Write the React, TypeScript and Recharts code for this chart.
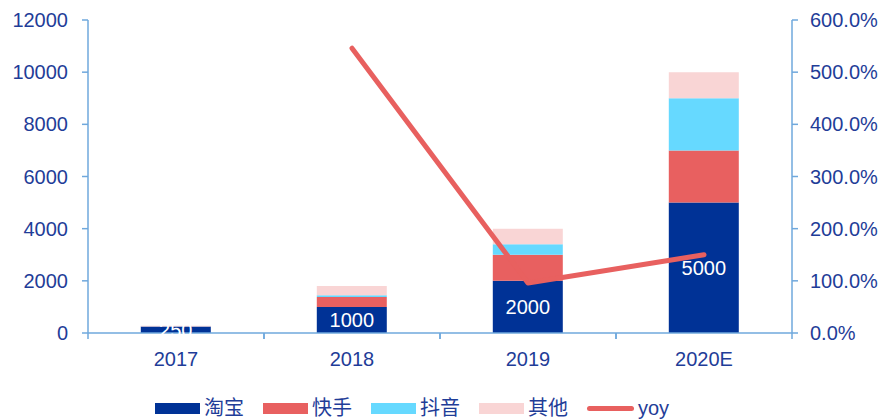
import React from 'react';
import { ComposedChart, Bar, Line, XAxis, YAxis, Legend, LabelList } from 'recharts';

const categories = ['2017', '2018', '2019', '2020E'];
const taobao = [250, 1000, 2000, 5000];
const kuaishou = [0, 380, 1000, 2000];
const douyin = [0, 70, 400, 2000];
const others = [30, 350, 600, 1000];
const yoy: (number | null)[] = [null, 546, 96, 150];
const leftTicks = [0, 2000, 4000, 6000, 8000, 10000, 12000];
const rightTicks = [0, 100, 200, 300, 400, 500, 600];

const data = categories.map((c, i) => ({
  name: c,
  taobao: taobao[i],
  kuaishou: kuaishou[i],
  douyin: douyin[i],
  others: others[i],
  yoy: yoy[i],
}));

const TEXT = '#1F3D98';
const AXIS = '#6FA8DC';
const FONT = '"Liberation Sans", Arial, "Noto Sans CJK SC", sans-serif';
const C_TB = '#003296';
const C_KS = '#E86060';
const C_DY = '#66D9FF';
const C_OT = '#F9D5D5';
const C_YOY = '#E8605F';

const legendItems = [
  { name: '淘宝', color: C_TB, type: 'rect' },
  { name: '快手', color: C_KS, type: 'rect' },
  { name: '抖音', color: C_DY, type: 'rect' },
  { name: '其他', color: C_OT, type: 'rect' },
  { name: 'yoy', color: C_YOY, type: 'line' },
];

const LegendContent = () => (
  <div style={{ display: 'flex', alignItems: 'center', height: 24, fontFamily: FONT, fontSize: 20, color: TEXT, whiteSpace: 'nowrap' }}>
    {legendItems.map((it) => (
      <div key={it.name} style={{ display: 'flex', alignItems: 'center', width: it.type === 'rect' ? 108 : 90 }}>
        {it.type === 'rect' ? (
          <div style={{ width: 45, height: 11, background: it.color }} />
        ) : (
          <div style={{ width: 47, height: 5, borderRadius: 3, background: it.color }} />
        )}
        <span style={{ marginLeft: 4, lineHeight: '24px' }}>{it.name}</span>
      </div>
    ))}
  </div>
);

const XTick = (props: any) => {
  const { x, y, payload } = props;
  const half = payload && payload.offset ? payload.offset : 88;
  return (
    <g>
      <line x1={x - half} x2={x - half} y1={y} y2={y + 6} stroke={AXIS} strokeWidth={1.5} />
      <line x1={x + half} x2={x + half} y1={y} y2={y + 6} stroke={AXIS} strokeWidth={1.5} />
      <text x={x} y={y + 33} textAnchor="middle" fill={TEXT} fontSize={20} fontFamily={FONT}>
        {payload.value}
      </text>
    </g>
  );
};

export default function App() {
  return (
    <div style={{ width: 884, height: 420 }}>
      <style>{'html,body{margin:0;padding:0;}'}</style>
      <ComposedChart
        width={884}
        height={420}
        data={data}
        margin={{ top: 20, right: 0, left: 0, bottom: 13 }}
        barCategoryGap="30%"
      >
        <XAxis
          dataKey="name"
          xAxisId="x"
          axisLine={{ stroke: AXIS, strokeWidth: 1.5 }}
          tickLine={false}
          tickSize={0}
          tickMargin={0}
          height={50}
          tick={<XTick />}
          interval={0}
        />
        <YAxis
          yAxisId="left"
          orientation="left"
          width={88}
          domain={[0, 12000]}
          ticks={leftTicks}
          interval={0}
          axisLine={{ stroke: AXIS, strokeWidth: 1.5 }}
          tickLine={{ stroke: AXIS, strokeWidth: 1.5 }}
          tickSize={6}
          tickMargin={14}
          tick={{ fill: TEXT, fontSize: 20, fontFamily: FONT }}
        />
        <YAxis
          yAxisId="right"
          orientation="right"
          width={92}
          domain={[0, 600]}
          ticks={rightTicks}
          interval={0}
          tickFormatter={(v: number) => v.toFixed(1) + '%'}
          axisLine={{ stroke: AXIS, strokeWidth: 1.5 }}
          tickLine={{ stroke: AXIS, strokeWidth: 1.5 }}
          tickSize={6}
          tickMargin={12}
          tick={{ fill: TEXT, fontSize: 20, fontFamily: FONT }}
        />
        <Legend
          verticalAlign="bottom"
          content={<LegendContent />}
          wrapperStyle={{ left: 155, bottom: 0, width: 'auto', height: 24 }}
        />
        <Bar dataKey="taobao" name="淘宝" stackId="a" xAxisId="x" yAxisId="left" fill={C_TB} isAnimationActive={false}>
          <LabelList dataKey="taobao" position="center" fill="#FFFFFF" fontSize={20} fontFamily={FONT} />
        </Bar>
        <Bar dataKey="kuaishou" name="快手" stackId="a" xAxisId="x" yAxisId="left" fill={C_KS} isAnimationActive={false} />
        <Bar dataKey="douyin" name="抖音" stackId="a" xAxisId="x" yAxisId="left" fill={C_DY} isAnimationActive={false} />
        <Bar dataKey="others" name="其他" stackId="a" xAxisId="x" yAxisId="left" fill={C_OT} isAnimationActive={false} />
        <Line
          dataKey="yoy"
          name="yoy"
          xAxisId="x"
          yAxisId="right"
          stroke={C_YOY}
          strokeWidth={5}
          strokeLinecap="round"
          strokeLinejoin="round"
          dot={false}
          activeDot={false}
          isAnimationActive={false}
        />
      </ComposedChart>
    </div>
  );
}
